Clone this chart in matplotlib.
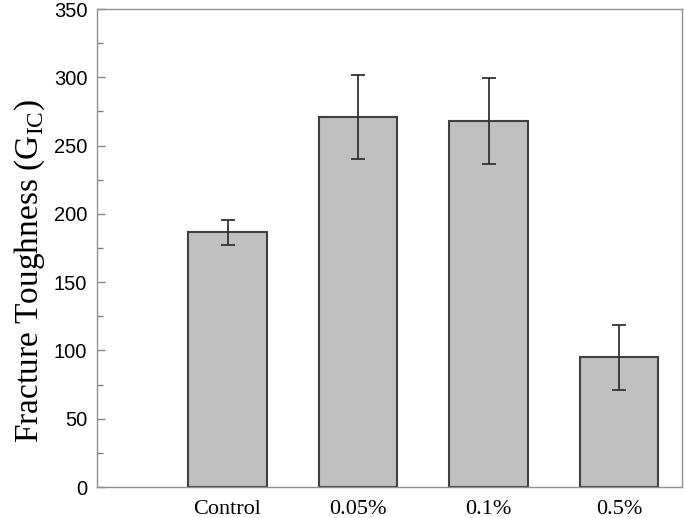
import matplotlib
matplotlib.use("Agg")
import matplotlib.pyplot as plt
from matplotlib.ticker import MultipleLocator

# data
groups = ["Control", "0.05%", "0.1%", "0.5%"]
toughness = [186.5, 271, 268, 95]
errors = [9, 31, 31.5, 23.7]

fig = plt.figure(figsize=(6.85, 5.18), dpi=100)
ax = fig.add_axes([0.1416, 0.0598, 0.8547, 0.9228])

pos = [1, 2, 3, 4]
ax.bar(pos, toughness, width=0.6, color="#c0c0c0", edgecolor="#404040",
       linewidth=1.5, zorder=2)
ax.errorbar(pos, toughness, yerr=errors, fmt="none", ecolor="#333333",
            elinewidth=1.3, capsize=5, capthick=1.3, zorder=3)

ax.set_xlim(0, 4.485)
ax.set_ylim(0, 350)
ax.set_xticks(pos)
ax.set_xticklabels(groups, fontfamily="Liberation Serif", fontsize=16)
ax.yaxis.set_major_locator(MultipleLocator(50))
ax.yaxis.set_minor_locator(MultipleLocator(25))
for lbl in ax.get_yticklabels():
    lbl.set_fontfamily("Liberation Sans")
    lbl.set_fontsize(14.5)

ax.tick_params(axis="both", which="both", direction="in", color="#808080")
ax.tick_params(axis="y", which="major", length=6, width=1, pad=7)
ax.tick_params(axis="y", which="minor", length=4, width=1)
ax.tick_params(axis="x", which="major", length=6, width=1, pad=9)
for s in ax.spines.values():
    s.set_color("#909090")
    s.set_linewidth(1)

ax.set_ylabel("Fracture Toughness (G$_\\mathregular{IC}$)",
              fontfamily="Liberation Serif", fontsize=24)
# label sits a bit below the axes centre in the original
ax.yaxis.set_label_coords(-0.085, 0.452)

fig.savefig("out.png", dpi=100)
